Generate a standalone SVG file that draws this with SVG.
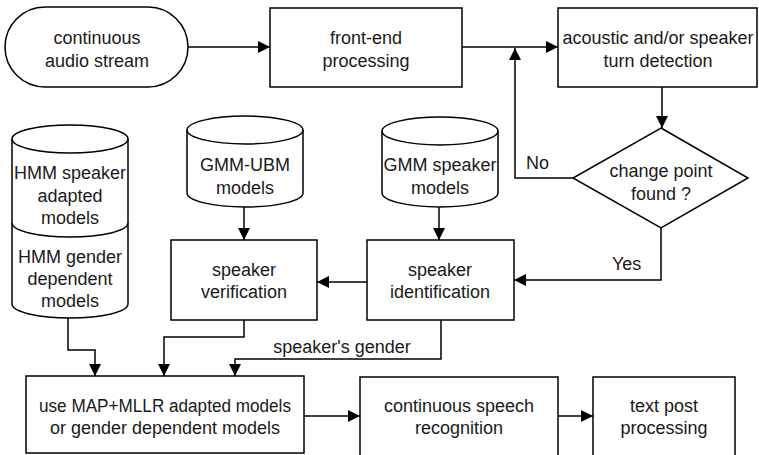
<svg xmlns="http://www.w3.org/2000/svg" width="759" height="455" viewBox="0 0 759 455">
  <style>
    .shape { fill: #fff; stroke: #000; stroke-width: 1.5; }
    .line { fill: none; stroke: #000; stroke-width: 1.5; }
    text { font-family: "Liberation Sans", Arial, sans-serif; font-size: 18px; fill: #1a1a1a; text-anchor: middle; }
    .lbl { text-anchor: start; }
  </style>
  <defs>
    <marker id="arrow" markerUnits="userSpaceOnUse" markerWidth="13" markerHeight="12" refX="12" refY="6" orient="auto">
      <path d="M0,0 L12,6 L0,12 z" fill="#000"/>
    </marker>
  </defs>
  <rect width="759" height="455" fill="#fff"/>

  <!-- connectors -->
  <g id="connectors" class="line" marker-end="url(#arrow)">
    <path d="M188,47 L270,47"/>
    <path d="M462,47 L558,47"/>
    <path d="M662,87 L662,128"/>
    <path d="M573,178 L515,178 L515,48"/>
    <path d="M661,228 L661,280 L514,280"/>
    <path d="M439,207 L439,240"/>
    <path d="M244,207 L244,240"/>
    <path d="M367,282 L317,282"/>
    <path d="M68,318 L68,350 L95,350 L95,376"/>
    <path d="M244,320 L244,337 L164,337 L164,376"/>
    <path d="M441,320 L441,359 L235,359 L235,376"/>
    <path d="M304,416 L360,416"/>
    <path d="M558,416 L593,416"/>
  </g>
  <g id="connector-labels">
    <text class="lbl" x="526" y="169">No</text>
    <text class="lbl" x="612" y="270">Yes</text>
    <text x="342" y="353">speaker's gender</text>
  </g>

  <g id="audio-stream">
    <rect class="shape" x="5" y="7" width="183" height="80" rx="40" ry="40"/>
    <text x="97" y="44">continuous</text>
    <text x="97" y="67">audio stream</text>
  </g>

  <g id="front-end">
    <rect class="shape" x="270" y="8" width="192" height="79"/>
    <text x="366" y="44">front-end</text>
    <text x="366" y="67">processing</text>
  </g>

  <g id="turn-detection">
    <rect class="shape" x="558" y="8" width="199" height="79"/>
    <text x="658" y="44">acoustic and/or speaker</text>
    <text x="658" y="67">turn detection</text>
  </g>

  <g id="change-point">
    <path class="shape" d="M661,128 L748,178 L661,228 L573,178 z"/>
    <text x="661" y="177">change point</text>
    <text x="661" y="200">found ?</text>
  </g>

  <g id="hmm-models">
    <path class="shape" d="M12,139 A58,14 0 0 1 128,139 L128,304 A58,14 0 0 1 12,304 z"/>
    <path class="line" d="M12,139 A58,14 0 0 0 128,139"/>
    <path class="line" d="M12,223 A58,14 0 0 0 128,223"/>
    <text x="70" y="179">HMM speaker</text>
    <text x="70" y="202">adapted</text>
    <text x="70" y="224">models</text>
    <text x="70" y="263">HMM gender</text>
    <text x="70" y="285">dependent</text>
    <text x="70" y="307">models</text>
  </g>

  <g id="gmm-ubm">
    <path class="shape" d="M187,130 A58,14 0 0 1 303,130 L303,193 A58,14 0 0 1 187,193 z"/>
    <path class="line" d="M187,130 A58,14 0 0 0 303,130"/>
    <text x="245" y="171">GMM-UBM</text>
    <text x="245" y="194">models</text>
  </g>

  <g id="gmm-speaker">
    <path class="shape" d="M382,131 A58,14 0 0 1 498,131 L498,193 A58,14 0 0 1 382,193 z"/>
    <path class="line" d="M382,131 A58,14 0 0 0 498,131"/>
    <text x="440" y="171">GMM speaker</text>
    <text x="440" y="194">models</text>
  </g>

  <g id="verification">
    <rect class="shape" x="171" y="240" width="146" height="80"/>
    <text x="244" y="276">speaker</text>
    <text x="244" y="298">verification</text>
  </g>

  <g id="identification">
    <rect class="shape" x="367" y="240" width="147" height="80"/>
    <text x="440" y="276">speaker</text>
    <text x="440" y="298">identification</text>
  </g>

  <g id="model-selection">
    <rect class="shape" x="26" y="376" width="278" height="77"/>
    <text x="165" y="412" textLength="252" lengthAdjust="spacingAndGlyphs">use MAP+MLLR adapted models</text>
    <text x="165" y="434">or gender dependent models</text>
  </g>

  <g id="speech-recognition">
    <rect class="shape" x="360" y="377" width="198" height="84"/>
    <text x="459" y="412">continuous speech</text>
    <text x="459" y="434">recognition</text>
  </g>

  <g id="post-processing">
    <rect class="shape" x="593" y="377" width="142" height="84"/>
    <text x="664" y="412">text post</text>
    <text x="664" y="434">processing</text>
  </g>
</svg>
